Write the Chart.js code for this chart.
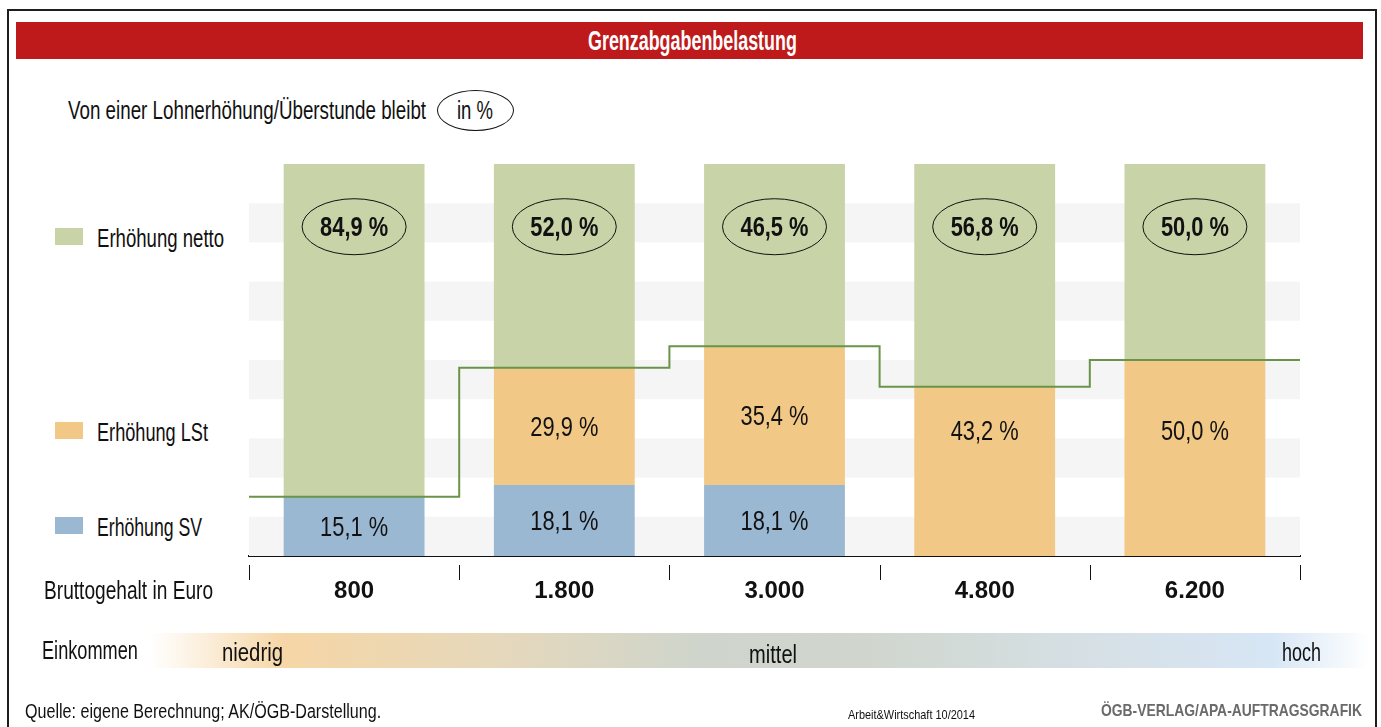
<!DOCTYPE html>
<html>
<head>
<meta charset="utf-8">
<script src="https://cdn.jsdelivr.net/npm/chart.js@4.4.1/dist/chart.umd.min.js"></script>
<style>
  html, body { margin: 0; padding: 0; background: #fff; }
  body { width: 1381px; height: 727px; position: relative; overflow: hidden;
         font-family: "Liberation Sans Narrow", "Liberation Sans", Arial, sans-serif; color: #111; }
  .abs { position: absolute; white-space: nowrap; }
  #frame { left: 7px; top: 9px; width: 1366px; height: 740px; border: 2px solid #1e1e1e; }
  #banner { left: 16px; top: 22px; width: 1347px; height: 37px; background: #bf1a1b; }
  #title { left: 572px; top: 5px; color: #fff; font-weight: bold; font-size: 27px; line-height: 28px; }
  #chart { position: absolute; left: 0; top: 0; }
  .t { font-size: 25px; line-height: 28px; transform-origin: 0 50%; }
  .legend-box { width: 28px; height: 17px; }
  #inpct { left: 437px; top: 90px; width: 77px; height: 41px; border: 1px solid #111; border-radius: 50%;
           box-sizing: border-box; }
  #income { left: 150px; top: 633px; width: 1220px; height: 35px;
            background: linear-gradient(to right, #fff 0%, #f6d6a6 11%, #e6d8bb 28%, #cfd5cc 45%, #d0d6cd 58%, #d6e0e6 78%, #d7e6f5 92%, #fff 100%); }
  #quelle { left: 25px; top: 699px; font-size: 20px; line-height: 24px; }
  #aw { left: 848px; top: 708px; font-size: 13px; line-height: 14px; }
  #apa { left: 1101px; top: 702px; font-size: 17px; line-height: 18px; font-weight: bold; color: #6a6a6a;
         font-family: "Liberation Sans", Arial, sans-serif; }
</style>
</head>
<body>
<div id="frame" class="abs"></div>
<div id="banner" class="abs"><div id="title" class="abs t" data-w="209">Grenzabgabenbelastung</div></div>
<div class="abs t" style="left:68px; top:96px;" data-w="358">Von einer Lohnerhöhung/Überstunde bleibt</div>
<div id="inpct" class="abs"></div>
<div class="abs t" style="left:457px; top:96px;" data-w="36">in %</div>

<div class="abs legend-box" style="left:55px; top:228px; background:#c8d3a7;"></div>
<div class="abs t" style="left:97px; top:224px;" data-w="127">Erhöhung netto</div>
<div class="abs legend-box" style="left:55px; top:422px; background:#f1c886;"></div>
<div class="abs t" style="left:97px; top:418px;" data-w="111">Erhöhung LSt</div>
<div class="abs legend-box" style="left:55px; top:517px; background:#9bb8d3;"></div>
<div class="abs t" style="left:97px; top:513px;" data-w="105">Erhöhung SV</div>

<canvas id="chart" width="1381" height="727"></canvas>

<div class="abs t" style="left:44px; top:576px;" data-w="169">Bruttogehalt in Euro</div>
<div id="income" class="abs"></div>
<div class="abs t" style="left:42px; top:636px;" data-w="96">Einkommen</div>
<div class="abs t" style="left:222px; top:638px;" data-w="61">niedrig</div>
<div class="abs t" style="left:749px; top:640px;" data-w="48">mittel</div>
<div class="abs t" style="left:1282px; top:638px;" data-w="39">hoch</div>

<div id="quelle" class="abs t" data-w="356">Quelle: eigene Berechnung; AK/ÖGB-Darstellung.</div>
<div id="aw" class="abs t" data-w="127">Arbeit&amp;Wirtschaft 10/2014</div>
<div id="apa" class="abs t" data-w="261">ÖGB-VERLAG/APA-AUFTRAGSGRAFIK</div>

<script>
const FONT = '"Liberation Sans Narrow", "Liberation Sans", Arial, sans-serif';

// Bruttogehalt in Euro
const labels = ['800', '1.800', '3.000', '4.800', '6.200'];
// Anteile in %
const sv    = [15.1, 18.1, 18.1, 0, 0];
const lst   = [0, 29.9, 35.4, 43.2, 50.0];
const netto = [84.9, 52.0, 46.5, 56.8, 50.0];

// Abgaben gesamt (SV + LSt) als Stufenlinie
const abgaben = labels.map((l, i) => ({ x: i, y: sv[i] + lst[i] }));
abgaben.push({ x: labels.length, y: abgaben[abgaben.length - 1].y });

const atCenter = arr => arr.map((v, i) => ({ x: i + 0.5, y: v }));
const fmt = v => v.toFixed(1).replace('.', ',') + ' %';

// squeeze HTML text to the condensed widths of the original
document.querySelectorAll('[data-w]').forEach(el => {
  const w = el.getBoundingClientRect().width;
  el.style.transform = 'scaleX(' + (el.dataset.w / w).toFixed(3) + ')';
});

function squeezed(ctx, text, x, y, sx) {
  ctx.save();
  ctx.translate(x, y);
  ctx.scale(sx, 1);
  ctx.fillText(text, 0, 0);
  ctx.restore();
}

const stripes = {
  id: 'stripes',
  beforeDatasetsDraw(chart) {
    const { ctx, chartArea: a, scales: { y } } = chart;
    ctx.save();
    ctx.fillStyle = '#f5f5f5';
    for (let v = 0; v < 100; v += 20) {
      const top = y.getPixelForValue(v + 10);
      ctx.fillRect(a.left, top, a.right - a.left, y.getPixelForValue(v) - top);
    }
    ctx.restore();
  }
};

const barLabels = {
  id: 'barLabels',
  afterDatasetsDraw(chart) {
    const { ctx, scales: { y } } = chart;
    ctx.save();
    ctx.textAlign = 'center';
    ctx.textBaseline = 'middle';
    ctx.fillStyle = '#111';
    ctx.font = '28px ' + FONT;
    [sv, lst].forEach((vals, di) => {
      chart.getDatasetMeta(di).data.forEach((bar, i) => {
        if (!vals[i]) return;
        let cy = (bar.y + bar.base) / 2;
        if (di === 1) cy = Math.min(cy, y.getPixelForValue(32));
        squeezed(ctx, fmt(vals[i]), bar.x, cy + 2, 0.78);
      });
    });
    ctx.font = 'bold 28px ' + FONT;
    chart.getDatasetMeta(2).data.forEach((bar, i) => {
      const cy = y.getPixelForValue(84);
      ctx.beginPath();
      ctx.ellipse(bar.x, cy, 52, 28, 0, 0, Math.PI * 2);
      ctx.lineWidth = 1;
      ctx.strokeStyle = '#111';
      ctx.stroke();
      squeezed(ctx, fmt(netto[i]), bar.x, cy + 2, 0.78);
    });
    ctx.restore();
  },
  afterDraw(chart) {
    const { ctx, chartArea: a, scales: { x } } = chart;
    ctx.save();
    ctx.strokeStyle = '#111';
    ctx.lineWidth = 1;
    for (let i = 0; i <= labels.length; i++) {
      const px = Math.round(x.getPixelForValue(i)) + 0.5;
      ctx.beginPath();
      ctx.moveTo(px, a.bottom + 9);
      ctx.lineTo(px, a.bottom + 24);
      ctx.stroke();
    }
    ctx.restore();
  }
};

new Chart(document.getElementById('chart'), {
  type: 'bar',
  data: {
    datasets: [
      { label: 'Erhöhung SV', data: atCenter(sv), backgroundColor: '#9bb8d3', order: 1, stack: 'a' },
      { label: 'Erhöhung LSt', data: atCenter(lst), backgroundColor: '#f1c886', order: 1, stack: 'a' },
      { label: 'Erhöhung netto', data: atCenter(netto), backgroundColor: '#c8d3a7', order: 1, stack: 'a' },
      { type: 'line', label: 'Abgaben', data: abgaben, stack: 'line',
        borderColor: '#6a9449', borderWidth: 2, stepped: 'before', pointRadius: 0, order: 0, fill: false }
    ]
  },
  options: {
    responsive: false,
    devicePixelRatio: 1,
    animation: false,
    layout: { padding: { left: 249, right: 81, top: 164, bottom: 121 } },
    datasets: { bar: { barPercentage: 0.67, categoryPercentage: 1, borderWidth: 0 } },
    plugins: { legend: { display: false }, tooltip: { enabled: false } },
    scales: {
      x: {
        type: 'linear',
        min: 0,
        max: labels.length,
        offset: false,
        stacked: true,
        grid: { display: false, drawTicks: false },
        border: { display: true, color: '#111', width: 2 },
        afterBuildTicks: s => { s.ticks = labels.map((l, i) => ({ value: i + 0.5 })); },
        afterFit: s => { s.height = 50; },
        ticks: {
          color: '#111', padding: 21, autoSkip: false, maxRotation: 0,
          font: { family: FONT, size: 24, weight: 'bold' },
          callback: v => labels[Math.floor(v)]
        }
      },
      y: { stacked: true, display: false, min: 0, max: 100 }
    }
  },
  plugins: [stripes, barLabels]
});
</script>
</body>
</html>
